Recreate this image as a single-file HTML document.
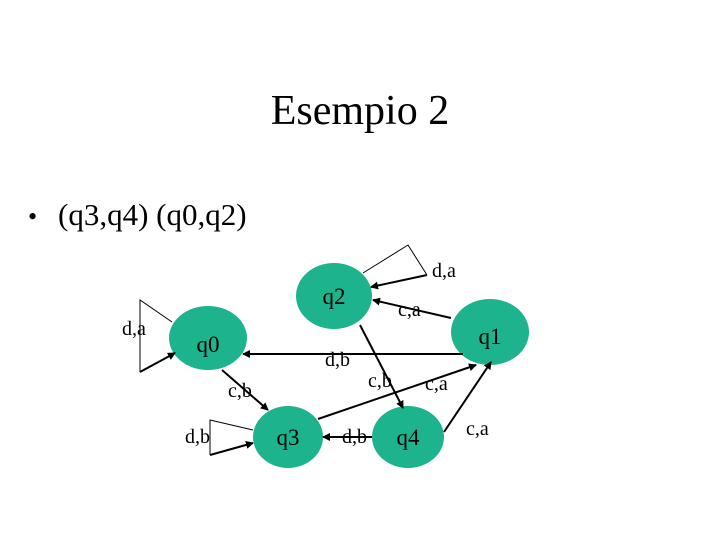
<!DOCTYPE html>
<html><head><meta charset="utf-8"><style>
html,body{margin:0;padding:0;background:#fff;}
svg{display:block;}
text{font-family:"Liberation Serif",serif;fill:#000;}
</style></head><body>
<svg width="720" height="540" viewBox="0 0 720 540" xmlns="http://www.w3.org/2000/svg">
<defs><marker id="a" markerWidth="8" markerHeight="8" refX="7" refY="4" orient="auto" markerUnits="userSpaceOnUse"><path d="M0,0 L8,4 L0,8 z" fill="#000"/></marker></defs>
<text x="360" y="124" font-size="42" text-anchor="middle">Esempio 2</text>
<text x="28" y="225" font-size="26">•</text>
<text x="58" y="225" font-size="31">(q3,q4) (q0,q2)</text>

<g fill="#1db38c">
<ellipse cx="334" cy="296" rx="38" ry="33"/>
<ellipse cx="208" cy="338" rx="39" ry="32"/>
<ellipse cx="490" cy="332" rx="39" ry="33"/>
<ellipse cx="288" cy="437" rx="35" ry="31"/>
<ellipse cx="408" cy="437" rx="36" ry="31"/>
</g>
<g font-size="23" text-anchor="middle">
<text x="334" y="304">q2</text>
<text x="208" y="352">q0</text>
<text x="490" y="344">q1</text>
<text x="288" y="445">q3</text>
<text x="408" y="445">q4</text>
</g>

<g stroke="#000" fill="none" stroke-width="1">
<path d="M363,273 L408,245 L427,275"/>
<path d="M172,322 L140,300 L140,372"/>
<path d="M253,430 L210,420 L210,455"/>
</g>
<g stroke="#000" stroke-width="2" marker-end="url(#a)">
<line x1="427" y1="275" x2="371" y2="287"/>
<line x1="140" y1="372" x2="175" y2="353"/>
<line x1="210" y1="455" x2="253" y2="443"/>
<line x1="451" y1="318" x2="373" y2="300"/>
<line x1="463" y1="354" x2="243" y2="354"/>
<line x1="222" y1="370" x2="268" y2="410"/>
<line x1="360" y1="325" x2="403" y2="408"/>
<line x1="318" y1="419" x2="476" y2="365"/>
<line x1="372" y1="437" x2="323" y2="437"/>
<line x1="444" y1="432" x2="491" y2="362"/>
</g>

<g font-size="20">
<text x="432" y="277">d,a</text>
<text x="398" y="316">c,a</text>
<text x="122" y="335">d,a</text>
<text x="325" y="366">d,b</text>
<text x="368" y="387">c,b</text>
<text x="425" y="390">c,a</text>
<text x="228" y="397">c,b</text>
<text x="185" y="443">d,b</text>
<text x="342" y="443">d,b</text>
<text x="466" y="435">c,a</text>
</g>
</svg>
</body></html>
